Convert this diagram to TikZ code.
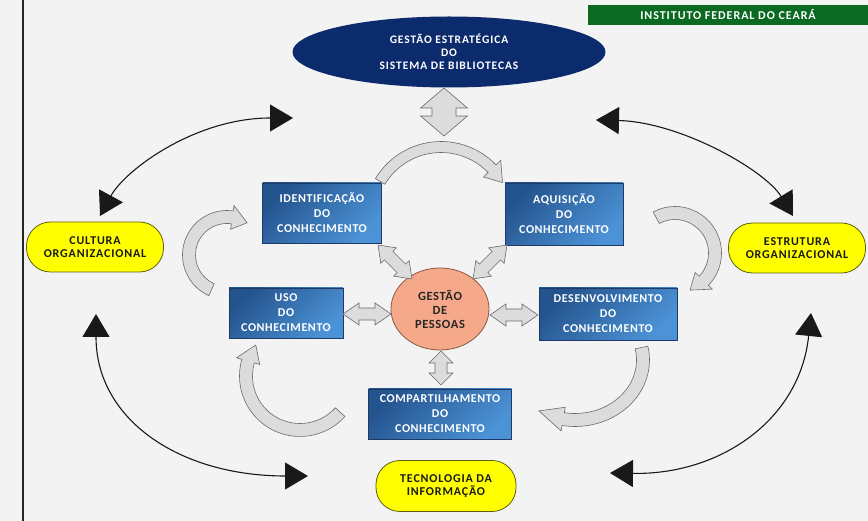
\documentclass[tikz,border=0pt]{standalone}
\usepackage{fontspec}
\setmainfont{Carlito}
\usetikzlibrary{arrows.meta,calc,shapes.geometric}
\definecolor{bg}{HTML}{F3F3F3}
\definecolor{navy}{HTML}{0C2B6C}
\definecolor{ifgreen}{HTML}{0B6A22}
\definecolor{bdark}{HTML}{24548E}
\definecolor{blight}{HTML}{4C92D6}
\definecolor{bedge}{HTML}{1E3A66}
\definecolor{yel}{HTML}{FFFF00}
\definecolor{yedge}{HTML}{5E5E10}
\definecolor{salmon}{HTML}{F5A98A}
\definecolor{sedge}{HTML}{8A5A40}
\definecolor{gfill}{HTML}{DCDCDC}
\definecolor{gedge}{HTML}{6A6A6A}
\newcommand{\cbarrow}[9]{%
\pgfmathsetmacro{\cbXa}{#1+(#3+#8)*cos(#5)}\pgfmathsetmacro{\cbYa}{#2+(#4+#8)*sin(#5)}%
\pgfmathsetmacro{\cbXb}{#1+(#3+#9)*cos(#6)}\pgfmathsetmacro{\cbYb}{#2+(#4+#9)*sin(#6)}%
\pgfmathsetmacro{\cbXc}{#1+(#3)*cos(#7)}\pgfmathsetmacro{\cbYc}{#2+(#4)*sin(#7)}%
\pgfmathsetmacro{\cbXd}{#1+(#3-#9)*cos(#6)}\pgfmathsetmacro{\cbYd}{#2+(#4-#9)*sin(#6)}%
\pgfmathsetmacro{\cbXe}{#1+(#3-#8)*cos(#6)}\pgfmathsetmacro{\cbYe}{#2+(#4-#8)*sin(#6)}%
\pgfmathsetmacro{\cbRo}{#3+#8}\pgfmathsetmacro{\cbRob}{#4+#8}%
\pgfmathsetmacro{\cbRi}{#3-#8}\pgfmathsetmacro{\cbRib}{#4-#8}%
\filldraw[cbar] (\cbXa,\cbYa) arc[start angle=#5,end angle=#6,x radius=\cbRo,y radius=\cbRob]
 -- (\cbXb,\cbYb) -- (\cbXc,\cbYc) -- (\cbXd,\cbYd) -- (\cbXe,\cbYe)
 arc[start angle=#6,end angle=#5,x radius=\cbRi,y radius=\cbRib] -- cycle;}
\newcommand{\dblarrow}[7]{%
\begin{scope}[shift={(#1,#2)},rotate=#3]
\pgfmathsetmacro{\dbA}{#4/2}\pgfmathsetmacro{\dbB}{#4/2-#7}%
\filldraw[dbar] (-\dbA,0) -- (-\dbB,#6) -- (-\dbB,#5) -- (\dbB,#5) -- (\dbB,#6) -- (\dbA,0)
 -- (\dbB,-#6) -- (\dbB,-#5) -- (-\dbB,-#5) -- (-\dbB,-#6) -- cycle;
\end{scope}}
\begin{document}
\begin{tikzpicture}[x=1pt,y=-1pt,
  kbox/.style={draw=bedge,line width=0.8pt,top color=bdark,bottom color=blight,shading angle=45,
    text=white,font=\bfseries\fontsize{12}{15}\selectfont\addfontfeatures{LetterSpace=5},align=center,inner sep=0pt},
  ybox/.style={draw=yedge,line width=0.8pt,fill=yel,rounded corners=24pt,minimum width=137pt,
    minimum height=50pt,align=center,font=\bfseries\fontsize{12}{13}\selectfont\addfontfeatures{LetterSpace=7},text=black!90,inner sep=0pt},
  blk/.style={line width=1.1pt,black!90,{Triangle[length=23pt,width=27pt]}-{Triangle[length=23pt,width=27pt]}},
  cbar/.style={draw=gedge,line width=0.6pt,fill=gfill},
  dbar/.style={draw=gedge,line width=0.6pt,fill=gfill}]
\fill[bg] (0,0) rectangle (868,521);
\useasboundingbox (0,0) rectangle (868,521);
\draw[line width=1.6pt,black!85] (23,0) -- (23,521);
% banner
\node[fill=ifgreen,minimum width=280pt,minimum height=20pt,inner sep=0pt,text=white,
  font=\bfseries\fontsize{12}{13}\selectfont\addfontfeatures{LetterSpace=8}] (ifce) at (728,15) {INSTITUTO FEDERAL DO CEARÁ};
% top ellipse
\node[ellipse,fill=navy,minimum width=313pt,minimum height=71pt,inner sep=0pt,text=white,align=center,
  font=\bfseries\fontsize{11.5}{13}\selectfont\addfontfeatures{LetterSpace=8}] (gest) at (449,52) {GESTÃO ESTRATÉGICA\\DO\\SISTEMA DE BIBLIOTECAS};
% yellow
\node[ybox] (cult) at (95,247) {CULTURA\\ORGANIZACIONAL};
\node[ybox] (estr) at (797,248) {ESTRUTURA\\ORGANIZACIONAL};
\node[ybox,minimum width=140pt,minimum height=51pt] (tec) at (446,486) {TECNOLOGIA DA\\INFORMAÇÃO};
% blue boxes
\node[kbox,minimum width=119pt,minimum height=60pt] (ident) at (322,213) {IDENTIFICAÇÃO\\DO\\CONHECIMENTO};
\node[kbox,minimum width=118pt,minimum height=62pt] (aqui) at (564,214) {AQUISIÇÃO\\DO\\CONHECIMENTO};
\node[kbox,minimum width=114pt,minimum height=50pt] (uso) at (286,313) {USO\\DO\\CONHECIMENTO};
\node[kbox,minimum width=138pt,minimum height=52pt] (desen) at (608,314) {DESENVOLVIMENTO\\DO\\CONHECIMENTO};
\node[kbox,minimum width=143pt,minimum height=50pt] (comp) at (440,414) {COMPARTILHAMENTO\\DO\\CONHECIMENTO};
% center
\node[ellipse,draw=sedge,line width=0.8pt,fill=salmon,minimum width=98pt,minimum height=82pt,inner sep=0pt,
  align=center,text=black!85,font=\bfseries\fontsize{12.5}{14}\selectfont\addfontfeatures{LetterSpace=5}] (gp) at (440,309) {GESTÃO\\DE\\PESSOAS};
% block double arrows
\dblarrow{444}{112}{90}{48}{12}{23.5}{20}
\dblarrow{367}{314}{0}{48}{6}{11}{16}
\dblarrow{514}{315}{0}{48}{6}{11}{16}
\dblarrow{441}{368}{90}{34}{6}{12}{12}
\dblarrow{395}{262}{-45}{48}{6}{11}{15}
\dblarrow{490}{262}{45}{48}{6}{11}{15}
% curved block arrows
\cbarrow{441}{218}{71}{71}{-149}{-44}{-30}{5.5}{12}
\cbarrow{227}{255}{38}{38}{114}{278}{302}{6.5}{12}
\cbarrow{675}{253}{40}{40}{-118}{44}{68}{6.5}{12}
\cbarrow{300}{376}{54}{54}{42}{196}{215}{6.5}{12}
\cbarrow{575}{360}{68}{60}{-12}{100}{122}{6.5}{12}
% thin black curved arrows
\coordinate (tlA) at (100,216); \coordinate (tlB) at (293,118);
\coordinate (trA) at (596,120); \coordinate (trB) at (793,216);
\coordinate (blA) at (96,314);  \coordinate (blB) at (308,476);
\coordinate (brA) at (610,473); \coordinate (brB) at (811,313);
\draw[blk] (tlA) .. controls (125,170) and (195,118) .. (tlB);
\draw[blk] (trA) .. controls (680,122) and (765,170) .. (trB);
\draw[blk] (blA) .. controls (96,420) and (180,476) .. (blB);
\draw[blk] (brA) .. controls (720,475) and (800,420) .. (brB);
\end{tikzpicture}
\end{document}
